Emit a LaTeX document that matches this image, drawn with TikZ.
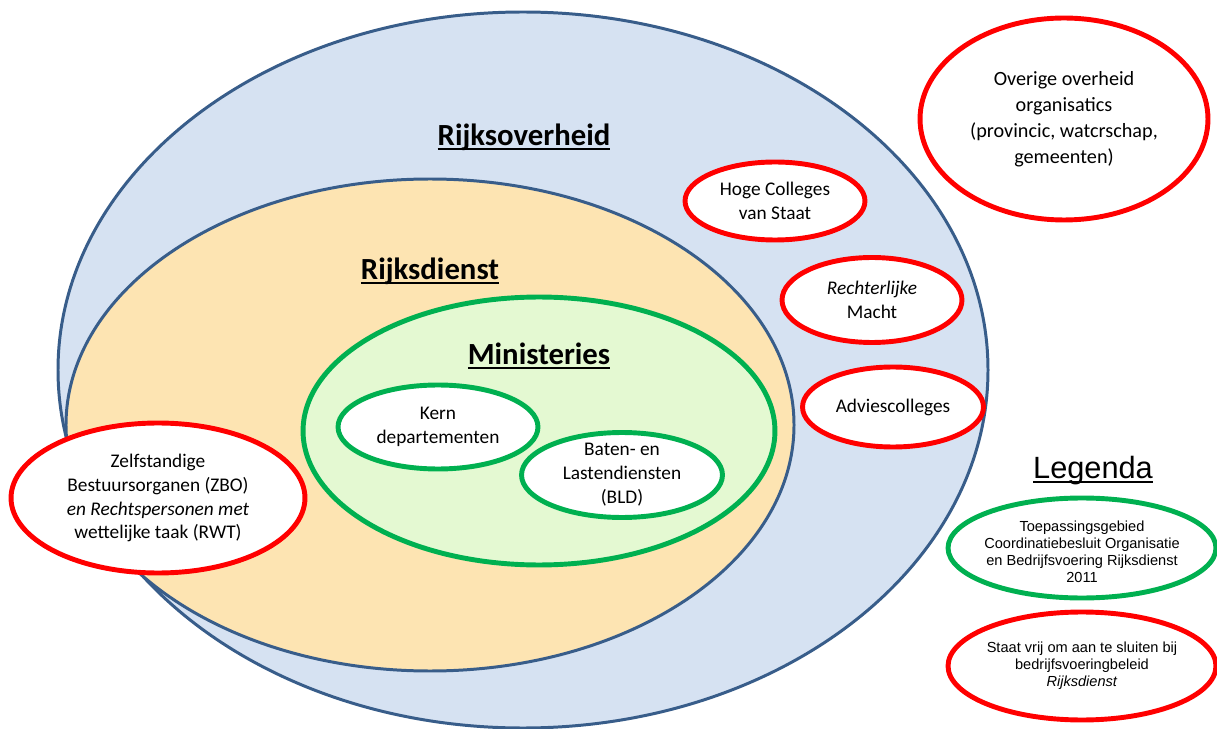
\documentclass[tikz,border=0pt]{standalone}
\usepackage{fontspec}
\setmainfont{Carlito}
\newfontfamily\legendfont{Liberation Sans}
\usetikzlibrary{shapes.geometric, positioning}
\definecolor{rijksblue}{RGB}{56,93,138}
\definecolor{bluefill}{RGB}{214,226,242}
\definecolor{orangefill}{RGB}{253,228,178}
\definecolor{greenfill}{RGB}{228,249,210}
\definecolor{okgreen}{RGB}{0,176,80}
\definecolor{okred}{RGB}{255,0,0}
% word style underline, close to the baseline
\newcommand{\ulword}[1]{\setbox0\hbox{#1}\rlap{\rule[-0.13em]{\wd0}{0.08em}}\box0}

\begin{document}
\begin{tikzpicture}[x=0.02cm,y=-0.02cm,
        area/.style={draw=rijksblue,line width=1.7pt},
        redoval/.style={ellipse,draw=okred,line width=2.8pt,fill=white,inner sep=0pt},
        greenoval/.style={ellipse,draw=okgreen,line width=2.8pt,fill=white,inner sep=0pt},
        txt/.style={align=center,font=\fontsize{11}{13.6}\selectfont},
        heading/.style={anchor=base,font=\bfseries\fontsize{17.5}{20}\selectfont},
        legtxt/.style={align=center,font=\legendfont\fontsize{8.3}{9.6}\selectfont}]
    \useasboundingbox (0,0) rectangle (1217,729);

    % Define the areas
    \coordinate (overheid) at (523,370);
    \coordinate (dienst) at (430,425);
    \draw[area,fill=bluefill] (overheid) ellipse [x radius=465, y radius=358];
    \draw[area,fill=orangefill] (dienst) ellipse [x radius=364, y radius=246];
    \node[greenoval,fill=greenfill,minimum width=9.44cm,minimum height=5.36cm] (ministeries) at (539,431) {};

    \node[heading] (overheidT) at (524,146) {\ulword{Rijksoverheid}};
    \node[heading] (dienstT)   at (430,280) {\ulword{Rijksdienst}};
    \node[heading] (ministT)   at (539,365) {\ulword{Ministeries}};

    % Ovals inside the Ministeries
    \node[greenoval,minimum width=4cm,minimum height=1.68cm] (kern) at (438,427) {};
    \node[greenoval,minimum width=4.02cm,minimum height=1.7cm] (bld) at (622,475) {};
    \node[txt] (kernT) at (kern) {Kern\\departementen};
    \node[txt] (bldT)  at (bld)  {Baten- en\\Lastendiensten\\(BLD)};

    % Ovals with a free choice
    \node[redoval,minimum width=3.6cm,minimum height=1.56cm] (hoge) at (775,201) {};
    \node[redoval,minimum width=3.6cm,minimum height=1.7cm] (rechter) at (872,300) {};
    \node[redoval,minimum width=3.62cm,minimum height=1.6cm] (advies) at (893,407) {};
    \node[redoval,minimum width=5.88cm,minimum height=3cm] (zbo) at (158,498) {};
    \node[redoval,minimum width=5.76cm,minimum height=4.04cm] (overige) at (1064,119) {};

    \node[txt] (hogeT)    at (hoge)    {Hoge Colleges\\van Staat};
    \node[txt] (rechterT) at (rechter) {\textit{Rechterlijke}\\Macht};
    \node[txt] (adviesT)  at (advies)  {Adviescolleges};
    \node[txt] (zboT)     at (zbo)     {Zelfstandige\\Bestuursorganen (ZBO)\\\textit{en Rechtspersonen met}\\wettelijke taak (RWT)};
    \node[txt,font=\fontsize{11.5}{14.7}\selectfont] (overigeT) at (overige)
        {Overige overheid\\organisatics\\(provincic, watcrschap,\\gemeenten)};

    % Legend
    \node[heading,font=\legendfont\fontsize{17.5}{20}\selectfont] (legenda) at (1093,479) {\ulword{Legenda}};
    \node[greenoval,minimum width=5.36cm,minimum height=2cm] (legGreen) at (1082,548) {};
    \node[redoval,minimum width=5.36cm,minimum height=2.16cm] (legRed) at (1082,666) {};
    \node[legtxt] (legGreenT) at (1082,552) {Toepassingsgebied\\Coordinatiebesluit Organisatie\\en Bedrijfsvoering Rijksdienst\\2011};
    \node[legtxt] (legRedT) at (legRed) {Staat vrij om aan te sluiten bij\\bedrijfsvoeringbeleid\\\textit{Rijksdienst}};
\end{tikzpicture}
\end{document}
